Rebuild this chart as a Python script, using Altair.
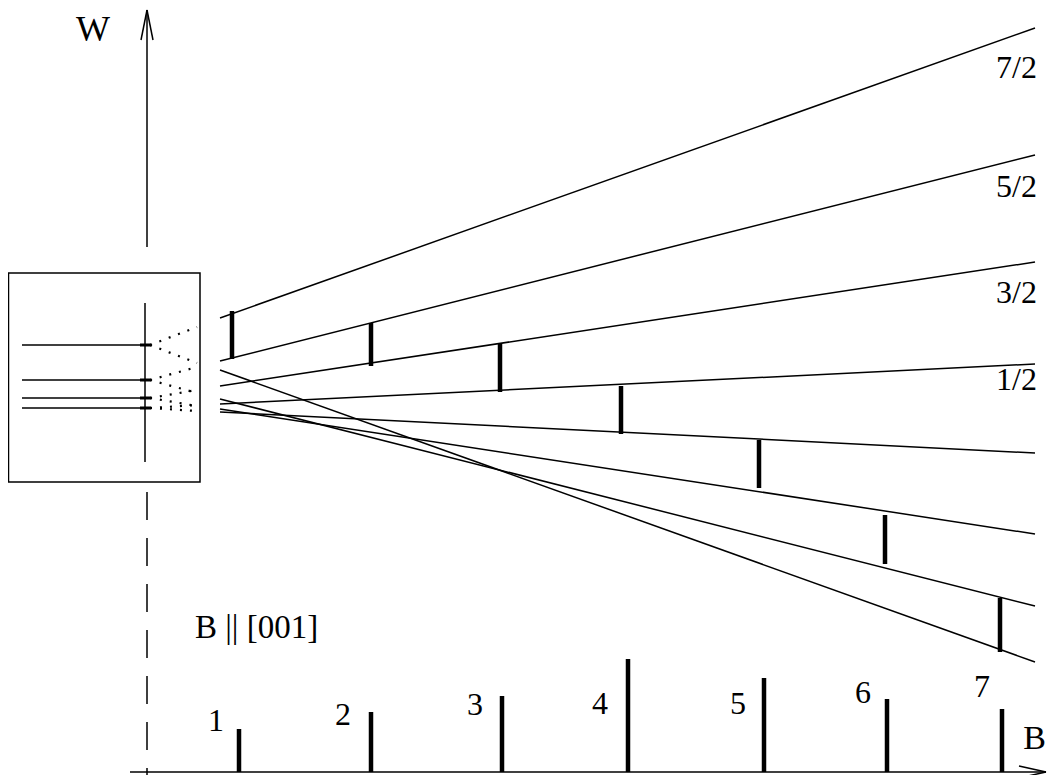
import altair as alt
import pandas as pd

# ---------------- data (B = field axis, W = energy axis, arbitrary units) ----------------
m_labels = ["7/2", "5/2", "3/2", "1/2", "-1/2", "-3/2", "-5/2", "-7/2"]

# solid part of each Zeeman line
B_solid_start = 73
B_solid_end = 888
W_solid_start = [454, 411, 386, 368, 360, 363, 373, 402]
W_solid_end = [744, 617, 510, 408, 319, 238, 166, 110]

# dotted part of each line close to zero field
B_dot_start = 3
B_dot_end = 50
W_dot_start = [427, 392, 374, 364, 364, 374, 392, 427]
W_dot_end = [445, 405, 382, 367, 361, 366, 379, 409]

# zero-field levels drawn in the inset box
W_zero_field = [427, 392, 374, 364]
B_zero_start = -125
B_zero_end = -2

# transitions marked in the level fan
trans_B = [85, 224, 353, 474, 612, 738, 853]
trans_W_low = [413, 406, 380, 338, 284, 208, 120]
trans_W_high = [461, 449, 429, 386, 332, 257, 174]

# spectrum sticks on the B axis
stick_B = [92, 224, 355, 481, 617, 740, 855]
stick_I = [43, 60, 76, 113, 94, 73, 63]
stick_labels = ["1", "2", "3", "4", "5", "6", "7"]
stick_label_B = [69, 196, 328, 453, 591, 716, 835]
stick_label_W = [51, 57, 67, 68, 68, 79, 85]

# m labels at the right end of the upper lines
frac_labels = ["7/2", "5/2", "3/2", "1/2"]
frac_W = [694, 575, 469, 382]
frac_B = 890

# ---------------- helpers ----------------
XS = alt.Scale(domain=[-139, 900], nice=False, zero=False)
YS = alt.Scale(domain=[-3, 764], nice=False, zero=False)
FONT = "Liberation Serif"


def X(f="B"):
    return alt.X(f"{f}:Q", scale=XS, axis=None)


def Y(f="W"):
    return alt.Y(f"{f}:Q", scale=YS, axis=None)


def segs(df, **mark):
    return alt.Chart(df).mark_rule(color="black", **mark).encode(
        x=X("B1"), y=Y("W1"), x2="B2:Q", y2="W2:Q"
    )


# Zeeman lines (solid)
solid = pd.DataFrame({
    "m": m_labels,
    "B1": [B_solid_start] * 8, "W1": W_solid_start,
    "B2": [B_solid_end] * 8, "W2": W_solid_end,
})
# dotted continuation toward zero field
dotted = pd.DataFrame({
    "m": m_labels,
    "B1": [B_dot_start] * 8, "W1": W_dot_start,
    "B2": [B_dot_end] * 8, "W2": W_dot_end,
})
# inset zero-field levels
zf = pd.DataFrame({
    "B1": [B_zero_start] * 4, "W1": W_zero_field,
    "B2": [B_zero_end] * 4, "W2": W_zero_field,
})
zf_ticks = pd.DataFrame({
    "B1": [-7] * 4, "W1": W_zero_field,
    "B2": [4] * 4, "W2": W_zero_field,
})
# transitions in fan
trans = pd.DataFrame({
    "B1": trans_B, "W1": trans_W_low, "B2": trans_B, "W2": trans_W_high,
})
# spectrum sticks
sticks = pd.DataFrame({
    "B1": stick_B, "W1": [0] * 7, "B2": stick_B, "W2": stick_I,
})

# axes and frame pieces
axes_solid = pd.DataFrame({
    "B1": [-17, 0, 0, 0, 899, 899, -2],
    "W1": [0, 525, 762, 762, 0, 0, 310],
    "B2": [899, 0, -6, 6, 872, 872, -2],
    "W2": [0, 762, 732, 732, 6, -6, 469],
})
axes_dashed = pd.DataFrame({"B1": [0], "W1": [280], "B2": [0], "W2": [-3]})

box = pd.DataFrame({"B1": [-138.5], "W1": [290], "B2": [53], "W2": [499]})

layers = [
    segs(solid, strokeWidth=1.5),
    segs(dotted, strokeWidth=2.2, strokeDash=[2, 8]),
    segs(zf, strokeWidth=1.5),
    segs(zf_ticks, strokeWidth=3),
    segs(trans, strokeWidth=4.5),
    segs(sticks, strokeWidth=4.5),
    segs(axes_solid, strokeWidth=1.5),
    segs(axes_dashed, strokeWidth=1.5, strokeDash=[28, 18]),
    alt.Chart(box).mark_rect(fill=None, stroke="black", strokeWidth=1.5).encode(
        x=X("B1"), y=Y("W1"), x2="B2:Q", y2="W2:Q"
    ),
]

# text
stick_txt = pd.DataFrame({"B": stick_label_B, "W": stick_label_W, "t": stick_labels})
layers.append(
    alt.Chart(stick_txt).mark_text(font=FONT, fontSize=32, color="black", baseline="middle")
    .encode(x=X(), y=Y(), text="t:N")
)
frac_txt = pd.DataFrame({"B": [frac_B] * 4, "W": frac_W, "t": frac_labels})
layers.append(
    alt.Chart(frac_txt).mark_text(font=FONT, fontSize=32, color="black", align="right",
                                  baseline="alphabetic")
    .encode(x=X(), y=Y(), text="t:N")
)
w_title = pd.DataFrame({"B": [-54], "W": [742], "t": ["W"]})
layers.append(
    alt.Chart(w_title).mark_text(font=FONT, fontSize=36, color="black", baseline="middle")
    .encode(x=X(), y=Y(), text="t:N")
)
b_title = pd.DataFrame({"B": [899], "W": [33], "t": ["B"]})
layers.append(
    alt.Chart(b_title).mark_text(font=FONT, fontSize=34, color="black", baseline="middle",
                                 align="right")
    .encode(x=X(), y=Y(), text="t:N")
)
orient = pd.DataFrame({"B": [48], "W": [134], "t": ["B || [001]"]})
layers.append(
    alt.Chart(orient).mark_text(font=FONT, fontSize=33, color="black", align="left",
                                baseline="alphabetic")
    .encode(x=X(), y=Y(), text="t:N")
)

chart = alt.layer(*layers).properties(
    width=1039, height=767, padding=0,
    autosize=alt.AutoSizeParams(type="none"),
).configure_view(stroke=None)

chart.save("out.html", embed_options={"renderer": "svg", "actions": False})
